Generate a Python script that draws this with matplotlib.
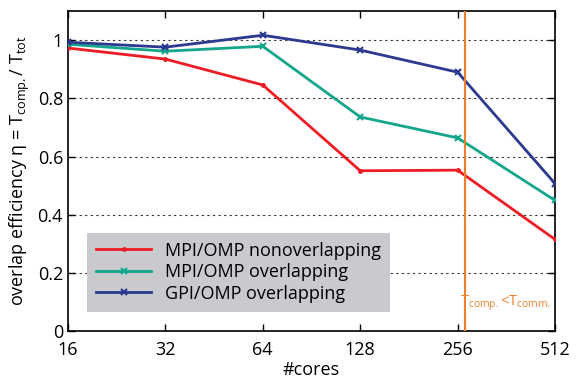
import numpy as np
import matplotlib
matplotlib.use('Agg')
import matplotlib.pyplot as plt

plt.rcParams['font.family'] = ['Open Sans', 'DejaVu Sans']
plt.rcParams['mathtext.fontset'] = 'custom'
plt.rcParams['mathtext.rm'] = 'Open Sans'

cores = [16, 32, 64, 128, 256, 512]
mpi_nonoverlap = [0.973, 0.935, 0.846, 0.551, 0.553, 0.315]
mpi_overlap = [0.986, 0.962, 0.979, 0.736, 0.664, 0.449]
gpi_overlap = [0.993, 0.976, 1.017, 0.966, 0.890, 0.507]
threshold_cores = 270

fig = plt.figure(figsize=(5.83, 3.83), dpi=100)
ax = fig.add_axes([0.1166, 0.1358, 0.952 - 0.1166, 0.971 - 0.1358])

x = np.log2(cores)
ax.plot(x, mpi_nonoverlap, color='#ee1c25', marker='.', markersize=5, lw=2,
        label='MPI/OMP nonoverlapping', zorder=3)
ax.plot(x, mpi_overlap, color='#13a68a', marker='x', markersize=4, mew=1.5, lw=2,
        label='MPI/OMP overlapping', zorder=3)
ax.plot(x, gpi_overlap, color='#2b3990', marker='x', markersize=4, mew=1.5, lw=2,
        label='GPI/OMP overlapping', zorder=3)

ax.axvline(np.log2(threshold_cores), color='#f07f2d', lw=1.5, zorder=4)
ax.text(np.log2(threshold_cores) - 0.05, 0.095,
        r'T$_{\rm comp.}$<T$_{\rm comm.}$', color='#f07f2d', fontsize=10.5,
        ha='left', va='center', zorder=5)

ax.set_xlim(x[0], x[-1])
ax.set_ylim(0, 1.1)
ax.set_xticks(x)
ax.set_xticklabels([str(c) for c in cores])
ax.set_yticks([0, 0.2, 0.4, 0.6, 0.8, 1.0])
ax.set_yticklabels(['0', '0.2', '0.4', '0.6', '0.8', '1'])
ax.tick_params(direction='in', top=True, right=True, labelsize=13, length=5, width=1)
ax.tick_params(axis='x', pad=7)
ax.yaxis.grid(True, linestyle=(0, (2, 3)), color='#333333', lw=0.8)
for s in ax.spines.values():
    s.set_linewidth(1.2)

ax.set_xlabel('#cores', fontsize=13, labelpad=2)
ax.set_ylabel('overlap efficiency η = T$_{\\rm comp.}$/ T$_{\\rm tot}$', fontsize=13, labelpad=4)

leg = ax.legend(loc='lower left', bbox_to_anchor=(0.04, 0.06), fontsize=13,
                frameon=True, fancybox=False, handlelength=3, borderpad=0.5,
                labelspacing=0.2, borderaxespad=0)
leg.get_frame().set_facecolor('#c8cacd')
leg.get_frame().set_edgecolor('none')
leg.get_frame().set_alpha(1)

fig.savefig('out.png', dpi=100)
